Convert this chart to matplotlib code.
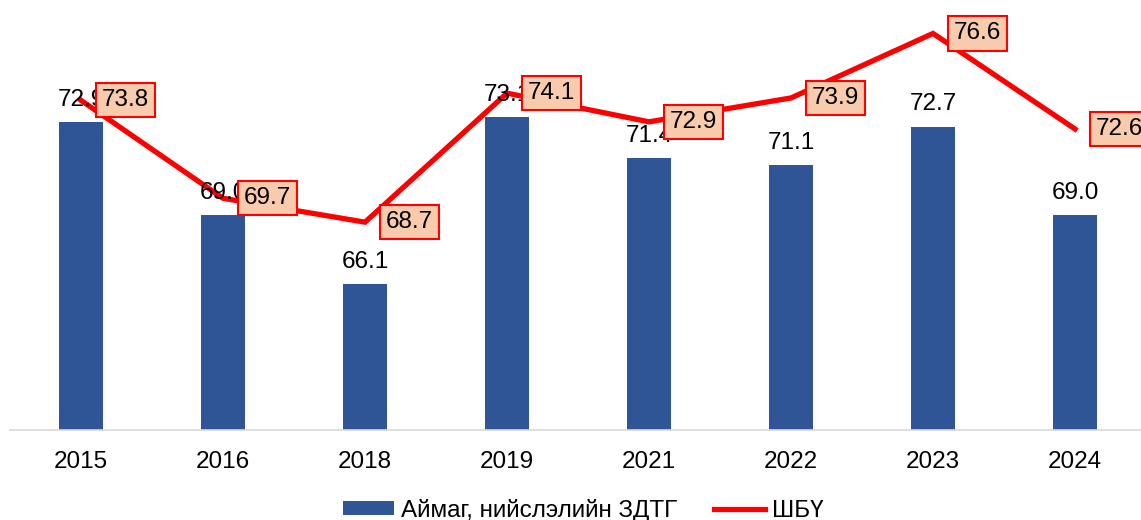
import matplotlib

matplotlib.use("Agg")
import matplotlib.pyplot as plt
from matplotlib.lines import Line2D
from matplotlib.patches import Patch

years = ["2015", "2016", "2018", "2019", "2021", "2022", "2023", "2024"]
aimag_values = [72.9, 69.0, 66.1, 73.1, 71.4, 71.1, 72.7, 69.0]
shbu_values = [73.8, 69.7, 68.7, 74.1, 72.9, 73.9, 76.6, 72.6]

bar_color = "#2F5597"
line_color = "#FF0000"
box_color = "#F8CBAD"

plt.rcParams["font.family"] = ["Liberation Sans", "DejaVu Sans"]
fs = 17.5

fig = plt.figure(figsize=(11.41, 5.20), dpi=100)
ax = fig.add_axes([10 / 1141, 90 / 520, 1136 / 1141, 430 / 520])

x = list(range(len(years)))
ax.bar(x, aimag_values, width=0.31, color=bar_color, zorder=2)
ax.plot(x, shbu_values, color=line_color, linewidth=3.8,
        solid_joinstyle="miter", zorder=3)

for xi, v in zip(x, aimag_values):
    ax.annotate(f"{v:.1f}", (xi, v), xytext=(0, 8), textcoords="offset points",
                ha="center", va="bottom", fontsize=fs, zorder=4)

for xi, v in zip(x, shbu_values):
    ax.annotate(f"{v:.1f}", (xi, v), xytext=(15, 0), textcoords="offset points",
                ha="left", va="center", fontsize=fs, zorder=5,
                bbox=dict(boxstyle="square,pad=0.25", facecolor=box_color,
                          edgecolor=line_color, linewidth=1.5))

ax.set_xlim(-0.5, 7.5)
ax.set_ylim(60, 78)
ax.set_xticks(x)
ax.set_xticklabels(years, fontsize=fs)
ax.set_yticks([])
for side in ("top", "right", "left"):
    ax.spines[side].set_visible(False)
ax.spines["bottom"].set_color("#D9D9D9")
ax.spines["bottom"].set_linewidth(1.2)
ax.tick_params(axis="x", length=0, pad=15)

handles = [
    Patch(facecolor=bar_color, label="Аймаг, нийслэлийн ЗДТГ"),
    Line2D([0], [0], color=line_color, linewidth=3.8, label="ШБҮ"),
]
fig.legend(handles=handles, loc="lower center", bbox_to_anchor=(0.511, -0.045),
           ncol=2, frameon=False, fontsize=fs, handlelength=2.1,
           handletextpad=0.3, columnspacing=1.5, handleheight=0.55)

fig.savefig("out.png", dpi=100)
